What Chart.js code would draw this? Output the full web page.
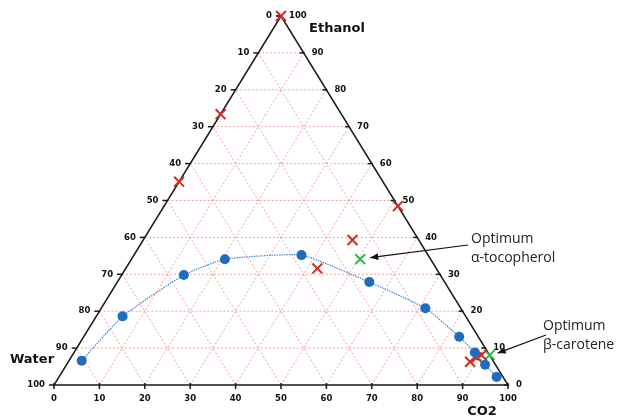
<!DOCTYPE html>
<html>
<head>
<meta charset="utf-8">
<script src="https://cdn.jsdelivr.net/npm/chart.js@4"></script>
<style>
  body { margin: 0; background: #fff; }
  #wrap { width: 623px; height: 416px; position: relative; }
</style>
</head>
<body>
<div id="wrap"><canvas id="chartCanvas"></canvas></div>
<script>
// ternary values in %, water = 100 - CO2 - ethanol
const axisTicks = [0, 10, 20, 30, 40, 50, 60, 70, 80, 90, 100];

// binodal curve (blue dots)
const binodalCO2 = [2.8, 5.8, 13.7, 20.6, 36.9, 55.5, 71.4, 82.7, 88.3, 92.2, 96.4];
const binodalEthanol = [6.6, 18.6, 29.8, 34.1, 35.2, 27.9, 20.8, 13.1, 8.8, 5.5, 2.2];

// experimental runs (red crosses)
const runCO2 = [0, 0, 0, 51.5, 46.1, 42.2, 88.5, 89.4, 90.1];
const runEthanol = [100, 73.4, 55.1, 48.5, 39.3, 31.6, 6.3, 7.5, 8.1];

// optima (green crosses)
const optimumNames = [['Optimum', 'α-tocopherol'], ['Optimum', 'β-carotene']];
const optimumCO2 = [50.4, 91.9];
const optimumEthanol = [34.1, 8.1];

// ternary -> cartesian (x along base, y = height)
function toXY(co2, eth) {
    return { x: co2 + eth / 2, y: eth };
}

function points(co2List, ethList) {
    return co2List.map((c, i) => toXY(c, ethList[i]));
}

const ternaryPlugin = {
    id: 'ternary',
    beforeDatasetsDraw(chart) {
        const ctx = chart.ctx;
        const xs = chart.scales.x, ys = chart.scales.y;
        const px = (co2, eth) => {
            const p = toXY(co2, eth);
            return { x: xs.getPixelForValue(p.x), y: ys.getPixelForValue(p.y) };
        };
        const line = (a, b) => {
            ctx.beginPath();
            ctx.moveTo(a.x, a.y);
            ctx.lineTo(b.x, b.y);
            ctx.stroke();
        };

        ctx.save();
        // grid
        ctx.strokeStyle = 'rgba(236, 110, 110, 0.65)';
        ctx.lineWidth = 1;
        ctx.setLineDash([2, 2]);
        axisTicks.slice(1, -1).forEach(v => {
            line(px(0, v), px(100 - v, v));          // constant ethanol
            line(px(v, 0), px(v, 100 - v));          // constant CO2
            line(px(v, 0), px(0, v));                // constant water
        });
        ctx.setLineDash([]);

        // triangle edges
        ctx.strokeStyle = '#1a1a1a';
        ctx.lineWidth = 1.5;
        ctx.beginPath();
        const a = px(0, 0), b = px(100, 0), c = px(0, 100);
        ctx.moveTo(a.x, a.y);
        ctx.lineTo(b.x, b.y);
        ctx.lineTo(c.x, c.y);
        ctx.closePath();
        ctx.stroke();

        // ticks and tick labels
        ctx.fillStyle = '#111';
        ctx.font = 'bold 8.5px "DejaVu Sans"';
        ctx.lineWidth = 1.5;
        axisTicks.forEach(v => {
            // left edge: water
            const l = px(0, 100 - v);
            line({ x: l.x - 5, y: l.y }, { x: l.x, y: l.y });
            ctx.textAlign = 'right';
            ctx.textBaseline = 'middle';
            ctx.fillText(String(v), l.x - 9, l.y);

            // right edge: ethanol
            const r = px(100 - v, v);
            line({ x: r.x - 4, y: r.y }, { x: r.x + 1, y: r.y });
            ctx.textAlign = 'left';
            ctx.fillText(String(v), r.x + 8, r.y);

            // bottom edge: CO2
            const d = px(v, 0);
            line({ x: d.x, y: d.y - 2 }, { x: d.x, y: d.y + 4 });
            ctx.textAlign = 'center';
            ctx.fillText(String(v), d.x, d.y + 14);
        });

        // axis titles
        ctx.font = 'bold 13px "DejaVu Sans"';
        ctx.textAlign = 'center';
        ctx.fillText('Ethanol', 337, 29);
        ctx.fillText('Water', 32, 360);
        ctx.fillText('CO2', 482, 412);
        ctx.restore();
    },
    afterDatasetsDraw(chart) {
        const ctx = chart.ctx;
        const xs = chart.scales.x, ys = chart.scales.y;
        const textPos = [{ x: 471, y: 239 }, { x: 543, y: 326 }];
        const tailPos = [{ x: 468, y: 245 }, { x: 546, y: 335 }];
        const headOff = [{ x: 10, y: -1.5 }, { x: 8, y: -2 }];

        ctx.save();
        optimumNames.forEach((lines, i) => {
            const p = toXY(optimumCO2[i], optimumEthanol[i]);
            const head = {
                x: xs.getPixelForValue(p.x) + headOff[i].x,
                y: ys.getPixelForValue(p.y) + headOff[i].y
            };
            const tail = tailPos[i];
            ctx.strokeStyle = '#111';
            ctx.fillStyle = '#111';
            ctx.lineWidth = 1.2;
            ctx.beginPath();
            ctx.moveTo(tail.x, tail.y);
            ctx.lineTo(head.x, head.y);
            ctx.stroke();
            const ang = Math.atan2(head.y - tail.y, head.x - tail.x);
            const len = 8, wid = 3.5;
            ctx.beginPath();
            ctx.moveTo(head.x, head.y);
            ctx.lineTo(head.x - len * Math.cos(ang) + wid * Math.sin(ang), head.y - len * Math.sin(ang) - wid * Math.cos(ang));
            ctx.lineTo(head.x - len * Math.cos(ang) - wid * Math.sin(ang), head.y - len * Math.sin(ang) + wid * Math.cos(ang));
            ctx.closePath();
            ctx.fill();

            ctx.font = '14px "Open Sans"';
            ctx.textAlign = 'left';
            ctx.textBaseline = 'middle';
            ctx.fillStyle = '#222';
            lines.forEach((t, k) => ctx.fillText(t, textPos[i].x, textPos[i].y + k * 19));
        });
        ctx.restore();
    }
};

const ctx = document.getElementById('chartCanvas').getContext('2d');
new Chart(ctx, {
    type: 'scatter',
    data: {
        datasets: [
            {
                label: 'Binodal',
                data: points(binodalCO2, binodalEthanol),
                showLine: true,
                borderColor: '#3f86d6',
                borderWidth: 1.2,
                borderDash: [1.5, 1],
                tension: 0.15,
                pointRadius: 5,
                pointBackgroundColor: '#1f6cbf',
                pointBorderColor: '#1f6cbf',
                pointBorderWidth: 0,
                clip: false
            },
            {
                label: 'Runs',
                data: points(runCO2, runEthanol),
                pointStyle: 'crossRot',
                pointRadius: 7,
                pointBorderWidth: 2,
                pointBorderColor: '#d42a22',
                borderColor: '#d42a22',
                clip: false
            },
            {
                label: 'Optimum',
                data: points(optimumCO2, optimumEthanol),
                pointStyle: 'crossRot',
                pointRadius: 7,
                pointBorderWidth: 2,
                pointBorderColor: '#2db84a',
                borderColor: '#2db84a',
                clip: false
            }
        ]
    },
    options: {
        responsive: true,
        maintainAspectRatio: false,
        animation: false,
        layout: { padding: { left: 54, right: 115, top: 16, bottom: 31 } },
        scales: {
            x: { type: 'linear', min: 0, max: 100, display: false },
            y: { type: 'linear', min: 0, max: 100, display: false }
        },
        plugins: {
            legend: { display: false },
            tooltip: { enabled: false }
        }
    },
    plugins: [ternaryPlugin]
});
</script>
</body>
</html>
